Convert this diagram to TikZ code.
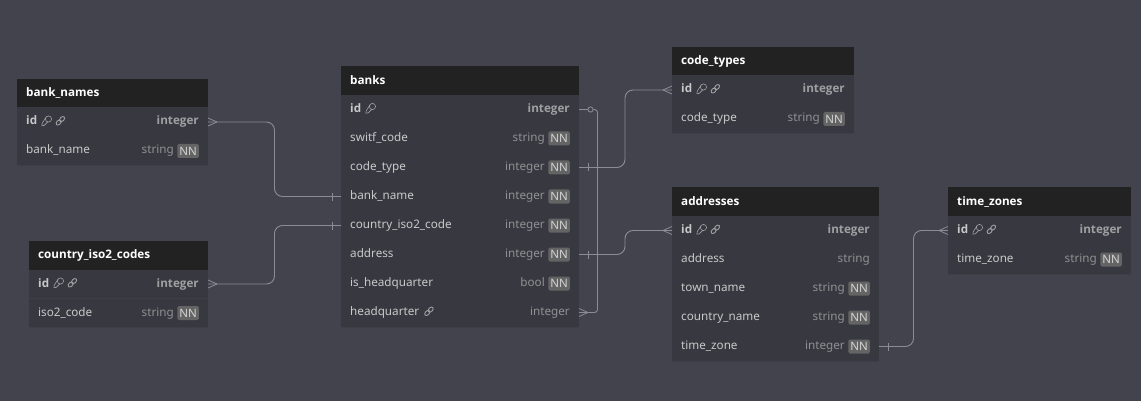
\documentclass[tikz,border=0pt]{standalone}
\usepackage{fontspec}
\setmainfont{Noto Sans}
\newfontfamily\bfam{Open Sans}
\definecolor{bgc}{HTML}{43434D}
\definecolor{rowc}{HTML}{383841}
\definecolor{sepc}{HTML}{3E3E47}
\definecolor{hdrc}{HTML}{222222}
\definecolor{edgec}{HTML}{3C3C45}
\definecolor{namec}{HTML}{C8C8C8}
\definecolor{typec}{HTML}{909092}
\definecolor{pktypec}{HTML}{A0A0A2}
\definecolor{badgec}{HTML}{646464}
\definecolor{badgetc}{HTML}{D4D4D4}
\definecolor{linec}{HTML}{8C8C96}
\tikzset{
  hdrbox/.style={fill=hdrc,draw=none,outer sep=0,inner sep=0,anchor=north west,minimum height=28.5pt},
  rowbox/.style={fill=rowc,draw=none,outer sep=0,inner sep=0,anchor=north west,minimum height=29pt},
  titletext/.style={font=\fontsize{11.7}{14}\bfam\bfseries,text=white,inner sep=0,anchor=base west},
  nametext/.style={font=\fontsize{11.7}{14}\selectfont,text=namec,inner sep=0,anchor=base west},
  pkname/.style={font=\fontsize{11.7}{14}\bfam\bfseries,text=namec,inner sep=0,anchor=base west},
  typetext/.style={font=\fontsize{11.7}{14}\selectfont,text=typec,inner sep=0,anchor=base east},
  pktype/.style={font=\fontsize{11.7}{14}\bfam\bfseries,text=pktypec,inner sep=0,anchor=base east},
  nnbadge/.style={fill=badgec,rounded corners=1.5pt,text=badgetc,font=\fontsize{11.5}{13}\selectfont,inner sep=0,minimum width=21.5pt,minimum height=14pt,anchor=east},
  conn/.style={draw=linec,line width=0.9pt,rounded corners=8pt},
  tip/.style={draw=linec,line width=0.8pt},
  iconline/.style={draw=pktypec,line width=0.6pt},
  keyicon/.pic={
    \draw[iconline] (1.6,-1.8) circle[radius=3.1];
    \draw[iconline] (-0.8,-3.6) -- (-4.6,2.4) -- (-5,4.9) -- (-2.6,4.6) -- (0.9,1);
  },
  linkicon/.pic={
    \draw[iconline,line width=0.9pt,rotate=45] (-2.4,0) ellipse[x radius=3,y radius=2];
    \draw[iconline,line width=0.9pt,rotate=45] (2.4,0) ellipse[x radius=3,y radius=2];
  },
}
% #1 name, #2 x, #3 y, #4 width, #5 title
\newcommand\dbhead[5]{%
  \node[hdrbox,minimum width=#4pt] (#1) at (#2,#3) {};
  \node[titletext] (#1-title) at (#2+9,#3+17.6) {#5};
}
% #1 id, #2 x, #3 top y, #4 width, #5 label, #6 type, #7 left style, #8 right style
\newcommand\dbrowbase[8]{%
  \node[rowbox,minimum width=#4pt] (#1) at (#2,#3) {};
  \draw[sepc,line width=0.5pt] (#1.south west) -- (#1.south east);
  \node[#7] (#1-name) at (#2+9,#3+17.5) {#5};
  \node[#8] (#1-type) at (#2+#4-9,#3+17.5) {#6};
}
\newcommand\dbrow[6]{\dbrowbase{#1}{#2}{#3}{#4}{#5}{#6}{nametext}{typetext}}
\newcommand\dbpk[6]{\dbrowbase{#1}{#2}{#3}{#4}{#5}{#6}{pkname}{pktype}}
% NN rows: type text ends 25 left of the usual place
\newcommand\dbnnrow[6]{%
  \node[rowbox,minimum width=#4pt] (#1) at (#2,#3) {};
  \draw[sepc,line width=0.5pt] (#1.south west) -- (#1.south east);
  \node[nametext] (#1-name) at (#2+9,#3+17.5) {#5};
  \node[typetext] (#1-type) at (#2+#4-34,#3+17.5) {#6};
  \node[nnbadge] (#1-nn) at (#2+#4-9,#3+14.5) {NN};
}
\newcommand\keyat[1]{\pic at ([shift={(9.5,-4.2)}]#1.base east) {keyicon};}
\newcommand\linkat[1]{\pic at ([shift={(23,-4.2)}]#1.base east) {linkicon};}
\newcommand\linkonly[1]{\pic at ([shift={(9.5,-4.2)}]#1.base east) {linkicon};}
\begin{document}
\begin{tikzpicture}[x=1pt,y=-1pt]
\useasboundingbox[fill=bgc] (0,0) rectangle (1141,401);

% bank_names
\dbhead{bn}{17}{79}{191}{bank\_names}
\dbpk{bn-id}{17}{107.5}{191}{id}{integer}
\dbnnrow{bn-name}{17}{136.5}{191}{bank\_name}{string}
\keyat{bn-id-name}\linkat{bn-id-name}

% country_iso2_codes
\dbhead{ci}{29}{241}{179}{country\_iso2\_codes}
\dbpk{ci-id}{29}{269.5}{179}{id}{integer}
\dbnnrow{ci-code}{29}{298.5}{179}{iso2\_code}{string}
\keyat{ci-id-name}\linkat{ci-id-name}

% banks
\dbhead{ba}{341}{66.5}{238}{banks}
\dbpk{ba-id}{341}{95}{238}{id}{integer}
\dbnnrow{ba-swift}{341}{124}{238}{switf\_code}{string}
\dbnnrow{ba-type}{341}{153}{238}{code\_type}{integer}
\dbnnrow{ba-name}{341}{182}{238}{bank\_name}{integer}
\dbnnrow{ba-iso}{341}{211}{238}{country\_iso2\_code}{integer}
\dbnnrow{ba-addr}{341}{240}{238}{address}{integer}
\dbnnrow{ba-ishq}{341}{269}{238}{is\_headquarter}{bool}
\dbrow{ba-hq}{341}{298}{238}{headquarter}{integer}
\keyat{ba-id-name}\linkonly{ba-hq-name}

% code_types
\dbhead{ct}{672}{47}{182}{code\_types}
\dbpk{ct-id}{672}{75.5}{182}{id}{integer}
\dbnnrow{ct-type}{672}{104.5}{182}{code\_type}{string}
\keyat{ct-id-name}\linkat{ct-id-name}

% addresses
\dbhead{ad}{672}{187.5}{207}{addresses}
\dbpk{ad-id}{672}{216}{207}{id}{integer}
\dbrow{ad-addr}{672}{245}{207}{address}{string}
\dbnnrow{ad-town}{672}{274}{207}{town\_name}{string}
\dbnnrow{ad-country}{672}{303}{207}{country\_name}{string}
\dbnnrow{ad-zone}{672}{332}{207}{time\_zone}{integer}
\keyat{ad-id-name}\linkat{ad-id-name}

% time_zones
\dbhead{tz}{948}{187.5}{183}{time\_zones}
\dbpk{tz-id}{948}{216}{183}{id}{integer}
\dbnnrow{tz-zone}{948}{245}{183}{time\_zone}{string}
\keyat{tz-id-name}\linkat{tz-id-name}

% connectors
\draw[conn] (bn-id.east) -- ++(66.5,0) |- (ba-name.west);
\draw[conn] (ci-id.east) -- ++(66.5,0) |- (ba-iso.west);
\draw[conn] (ba-type.east) -- ++(46,0) |- (ct-id.west);
\draw[conn] (ba-addr.east) -- ++(46,0) |- (ad-id.west);
\draw[conn] (ad-zone.east) -- ++(34.5,0) |- (tz-id.west);
\coordinate (selfring) at ([xshift=11.5]ba-id.east);
\draw[conn,rounded corners=3pt] (ba-id.east) -- ++(18.5,0) |- (ba-hq.east);
\fill[bgc] (selfring) circle[radius=2.6];
\draw[tip] (selfring) circle[radius=2.6];

% crow's feet
\foreach \n in {bn-id,ci-id,ba-hq} {
  \draw[tip] (\n.east) ++(9,0) -- ++(-9,-4) ++(9,4) -- ++(-9,4);
}
\foreach \n in {ct-id,ad-id,tz-id} {
  \draw[tip] (\n.west) ++(-9,0) -- ++(9,-4) ++(-9,4) -- ++(9,4);
}
% single bars
\foreach \n in {ba-name,ba-iso} {
  \draw[tip] (\n.west) ++(-9,-4) -- ++(0,8);
}
\foreach \n in {ba-type,ba-addr,ad-zone} {
  \draw[tip] (\n.east) ++(9,-4) -- ++(0,8);
}
\end{tikzpicture}
\end{document}
